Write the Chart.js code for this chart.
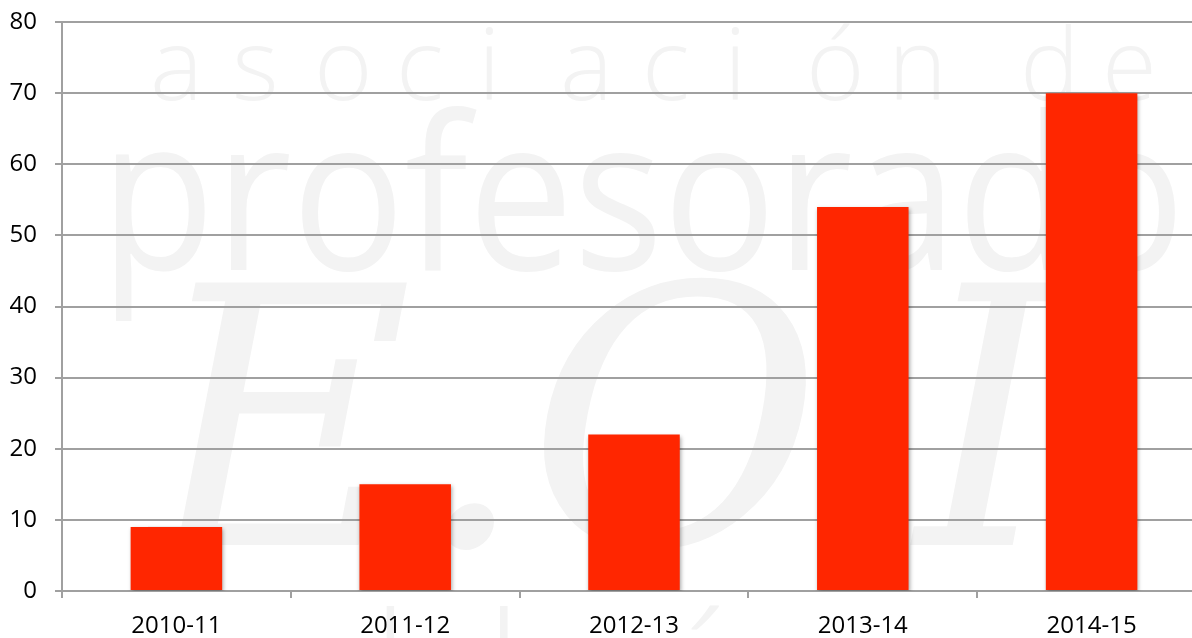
<!DOCTYPE html>
<html>
<head>
<meta charset="utf-8">
<script src="https://cdn.jsdelivr.net/npm/chart.js@4"></script>
<style>
  html, body { margin: 0; padding: 0; background: #fff; overflow: hidden; }
  #wrap { width: 1206px; height: 638px; position: relative; }
</style>
</head>
<body>
<div id="wrap"><canvas id="myChart"></canvas></div>
<script>
const categories = ["2010-11", "2011-12", "2012-13", "2013-14", "2014-15"];
const values = [9, 15, 22, 54, 70];
const yTicks = [0, 10, 20, 30, 40, 50, 60, 70, 80];

const ctx = document.getElementById('myChart');

// faint watermark behind the chart
const watermark = {
  id: 'watermark',
  beforeDraw(chart) {
    const c = chart.ctx;
    c.save();
    c.fillStyle = '#f3f3f3';
    c.textBaseline = 'alphabetic';
    c.font = '300 100px "Open Sans"';
    c.textAlign = 'left';
    const top = 'asociación de';
    let x = 150;
    for (const ch of top) {
      c.fillText(ch, x, 100);
      x += ch === ' ' ? 50 : 82;
    }
    c.font = '400 215px "Open Sans"';
    c.fillText('profesorado', 100, 270, 1085);
    c.font = 'italic 360px "DejaVu Serif"';
    c.fillText('E.O.I.', 150, 545);
    c.font = '300 150px "Open Sans"';
    c.fillText('andalucía', 150, 720, 1000);
    c.restore();
  }
};

// soft shadow under bars
const barShadow = {
  id: 'barShadow',
  beforeDatasetsDraw(chart) {
    chart.ctx.save();
    chart.ctx.shadowColor = 'rgba(0,0,0,0.35)';
    chart.ctx.shadowBlur = 4;
    chart.ctx.shadowOffsetX = 1;
    chart.ctx.shadowOffsetY = 2;
  },
  afterDatasetsDraw(chart) {
    chart.ctx.restore();
  }
};

new Chart(ctx, {
  type: 'bar',
  data: {
    labels: categories,
    datasets: [{
      data: values,
      backgroundColor: '#ff2600',
      borderWidth: 0,
      categoryPercentage: 1.0,
      barPercentage: 0.4
    }]
  },
  options: {
    responsive: true,
    maintainAspectRatio: false,
    animation: false,
    layout: { padding: { top: 22, right: 0, left: 0, bottom: 0 } },
    plugins: {
      legend: { display: false },
      tooltip: { enabled: false }
    },
    scales: {
      x: {
        grid: {
          offset: true,
          drawOnChartArea: false,
          drawTicks: true,
          tickLength: 7,
          color: '#a0a0a0',
          lineWidth: 2
        },
        border: { color: '#a0a0a0', width: 2 },
        ticks: {
          color: '#000',
          padding: 14,
          font: { family: 'Open Sans', size: 24 }
        },
        afterFit(scale) {
          scale.height = 47;
          scale.paddingLeft = 0;
          scale.paddingRight = 0;
        }
      },
      y: {
        min: 0,
        max: 80,
        afterBuildTicks(scale) { scale.ticks = yTicks.map(v => ({ value: v })); },
        grid: {
          color: '#a0a0a0',
          lineWidth: 2,
          tickLength: 7
        },
        border: { color: '#a0a0a0', width: 2 },
        ticks: {
          color: '#000',
          padding: 18,
          font: { family: 'Open Sans', size: 24 }
        },
        afterFit(scale) {
          scale.width = 62;
          scale.paddingTop = 0;
          scale.paddingBottom = 0;
        }
      }
    }
  },
  plugins: [watermark, barShadow]
});
</script>
</body>
</html>
